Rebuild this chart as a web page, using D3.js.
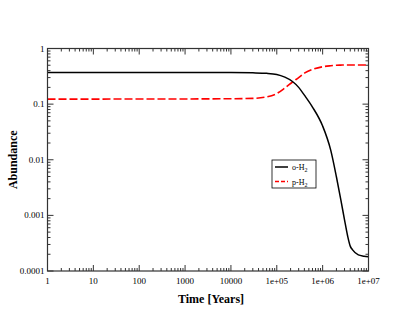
<!DOCTYPE html>
<html>
<head>
<meta charset="utf-8">
<script src="https://cdn.jsdelivr.net/npm/d3@7"></script>
<style>
  body { margin: 0; background: #fff; }
  svg text { font-family: "Liberation Serif", "DejaVu Serif", serif; }
</style>
</head>
<body>
<div id="chart"></div>
<script>
// time grid (years) and abundances
const time = [1, 10, 100, 1000, 1e4, 3e4, 6e4, 1e5, 1.5e5, 2.2e5, 3e5, 4e5, 6e5,
  1e6, 1.5e6, 2e6, 2.5e6, 3e6, 3.5e6, 4e6, 4.5e6, 6e6, 8e6, 1e7];
const orthoH2 = [0.37, 0.37, 0.37, 0.37, 0.369, 0.365, 0.358, 0.342, 0.305, 0.255, 0.2, 0.145, 0.0887,
  0.0404, 0.0149, 0.0049, 0.00188, 0.00083, 0.00043, 0.00028, 0.00024, 0.000195, 0.000185, 0.00018];
const paraH2 = [0.123, 0.123, 0.124, 0.124, 0.125, 0.127, 0.135, 0.155, 0.195, 0.25, 0.3, 0.36, 0.42,
  0.47, 0.49, 0.5, 0.503, 0.505, 0.505, 0.505, 0.505, 0.505, 0.505, 0.505];
const xTicks = [1, 10, 100, 1000, 1e4, 1e5, 1e6, 1e7];
const xTickLabels = ["1", "10", "100", "1000", "10000", "1e+05", "1e+06", "1e+07"];
const yTicks = [1e-4, 1e-3, 1e-2, 0.1, 1];
const yTickLabels = ["0.0001", "0.001", "0.01", "0.1", "1"];
const seriesNames = ["o-H", "p-H"];

const w = 415, h = 321;
const pLeft = 47.5, pRight = 368.5, pTop = 48.5, pBottom = 271;

const svg = d3.select("#chart").append("svg")
  .attr("width", w)
  .attr("height", h);

const x = d3.scaleLog().domain([1, 1e7]).range([pLeft, pRight]);
const y = d3.scaleLog().domain([1e-4, 1]).range([pBottom, pTop]);

// minor tick values: 2..9 in each decade
function minors(lo, hi) {
  const out = [];
  for (let p = lo; p < hi * 0.999; p *= 10) {
    for (let k = 2; k <= 9; k++) out.push(p * k);
  }
  return out;
}
const xMinor = minors(1, 1e7);
const yMinor = minors(1e-4, 1);

const frameColor = "#333";

// inward ticks on all four sides
function drawTicks(g, axis, vals, len) {
  vals.forEach(v => {
    if (axis === "x") {
      const px = x(v);
      g.append("line").attr("x1", px).attr("x2", px).attr("y1", pBottom).attr("y2", pBottom - len);
      g.append("line").attr("x1", px).attr("x2", px).attr("y1", pTop).attr("y2", pTop + len);
    } else {
      const py = y(v);
      g.append("line").attr("y1", py).attr("y2", py).attr("x1", pLeft).attr("x2", pLeft + len);
      g.append("line").attr("y1", py).attr("y2", py).attr("x1", pRight).attr("x2", pRight - len);
    }
  });
}
const tickG = svg.append("g").attr("stroke", frameColor).attr("stroke-width", 1);
drawTicks(tickG, "x", xTicks, 6);
drawTicks(tickG, "x", xMinor, 3);
drawTicks(tickG, "y", yTicks, 6);
drawTicks(tickG, "y", yMinor, 3);

// tick labels
svg.append("g").selectAll("text")
  .data(xTicks)
  .enter().append("text")
  .attr("x", d => x(d))
  .attr("y", pBottom + 13)
  .attr("text-anchor", "middle")
  .attr("font-size", 9)
  .text((d, i) => xTickLabels[i]);

svg.append("g").selectAll("text")
  .data(yTicks)
  .enter().append("text")
  .attr("x", pLeft - 3)
  .attr("y", d => y(d) + 3)
  .attr("text-anchor", "end")
  .attr("font-size", 9)
  .text((d, i) => yTickLabels[i]);

// lines
const line = d3.line()
  .x(d => x(d[0]))
  .y(d => y(d[1]))
  .curve(d3.curveMonotoneX);

svg.append("path")
  .datum(time.map((t, i) => [t, paraH2[i]]))
  .attr("d", line)
  .attr("fill", "none")
  .attr("stroke", "#ff0000")
  .attr("stroke-width", 1.6)
  .attr("stroke-dasharray", "8,3");

svg.append("path")
  .datum(time.map((t, i) => [t, orthoH2[i]]))
  .attr("d", line)
  .attr("fill", "none")
  .attr("stroke", "#000")
  .attr("stroke-width", 1.5);

// frame
svg.append("rect")
  .attr("x", pLeft).attr("y", pTop)
  .attr("width", pRight - pLeft).attr("height", pBottom - pTop)
  .attr("fill", "none")
  .attr("stroke", frameColor)
  .attr("stroke-width", 1.2);

// axis titles
svg.append("text")
  .attr("x", (pLeft + pRight) / 2 + 3)
  .attr("y", 303)
  .attr("text-anchor", "middle")
  .attr("font-size", 12)
  .attr("font-weight", "bold")
  .text("Time [Years]");

svg.append("text")
  .attr("text-anchor", "middle")
  .attr("transform", "translate(17," + ((pTop + pBottom) / 2) + ")rotate(-90)")
  .attr("font-size", 12)
  .attr("font-weight", "bold")
  .text("Abundance");

// legend
const legend = svg.append("g").attr("transform", "translate(272,160)");
legend.append("rect")
  .attr("width", 44).attr("height", 28)
  .attr("fill", "#fff")
  .attr("stroke", "#000")
  .attr("stroke-width", 0.8);
const legStyles = [
  { color: "#000", dash: null },
  { color: "#ff0000", dash: "4,2" }
];
seriesNames.forEach((name, i) => {
  const ly = 7 + i * 14.5;
  legend.append("line")
    .attr("x1", 3).attr("x2", 16)
    .attr("y1", ly).attr("y2", ly)
    .attr("stroke", legStyles[i].color)
    .attr("stroke-width", 1.5)
    .attr("stroke-dasharray", legStyles[i].dash);
  const t = legend.append("text")
    .attr("x", 20).attr("y", ly + 3)
    .attr("font-size", 8);
  t.append("tspan").text(name);
  t.append("tspan").attr("font-size", 6).attr("dy", 2).text("2");
});
</script>
</body>
</html>
